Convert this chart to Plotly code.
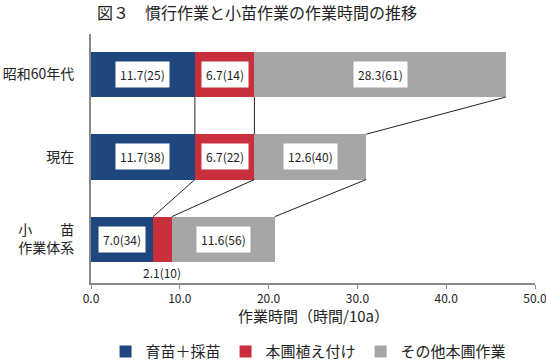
import plotly.graph_objects as go

categories = ["昭和60年代", "現在", "小　　苗<br>作業体系"]
ikubyo = [11.7, 11.7, 7.0]      # 育苗＋採苗
ueduke = [6.7, 6.7, 2.1]        # 本圃植え付け
sonota = [28.3, 12.6, 11.6]     # その他本圃作業
pct_ikubyo = [25, 38, 34]
pct_ueduke = [14, 22, 10]
pct_sonota = [61, 40, 56]
series_names = ["育苗＋採苗", "本圃植え付け", "その他本圃作業"]
colors = ["#1F467D", "#C9303B", "#A6A6A6"]
x_ticks = [0, 10, 20, 30, 40, 50]

FONT = "Noto Sans CJK JP"
BW = 0.55
ypos = list(range(len(categories)))

fig = go.Figure()
for vals, name, col in zip([ikubyo, ueduke, sonota], series_names, colors):
    fig.add_trace(go.Bar(y=ypos, x=vals, name=name, orientation="h",
                         marker=dict(color=col, line=dict(width=0)),
                         width=BW))

# connector lines between consecutive bars
cums = []
for i in range(len(categories)):
    a = ikubyo[i]; b = a + ueduke[i]; c = b + sonota[i]
    cums.append([a, b, c])
for i in range(len(categories) - 1):
    for k in range(3):
        fig.add_shape(type="line", x0=cums[i][k], x1=cums[i + 1][k],
                      y0=ypos[i] + BW / 2, y1=ypos[i + 1] - BW / 2,
                      line=dict(color="#222222", width=1))

# labels
for i in range(len(categories)):
    segs = [(0, ikubyo[i], pct_ikubyo[i]),
            (ikubyo[i], ueduke[i], pct_ueduke[i]),
            (ikubyo[i] + ueduke[i], sonota[i], pct_sonota[i])]
    for k, (start, v, p) in enumerate(segs):
        txt = f"{v:.1f}({p})"
        if v < 3:
            fig.add_annotation(x=start + v / 2, y=ypos[i] + BW / 2, text=txt,
                               showarrow=False, yanchor="top", yshift=0,
                               font=dict(size=12, color="#222222", family=FONT))
        else:
            fig.add_annotation(x=start + v / 2, y=ypos[i], text=txt,
                               showarrow=False, bgcolor="white", borderpad=4,
                               font=dict(size=12, color="#222222", family=FONT))

fig.add_annotation(x=0.374, y=1.088, xref="paper", yref="paper", yanchor="middle",
                   text="図３　慣行作業と小苗作業の作業時間の推移", showarrow=False,
                   font=dict(size=16, color="#222222", family=FONT))
fig.add_annotation(x=0.5, y=-0.1325, xref="paper", yref="paper",
                   text="作業時間（時間/10a）", showarrow=False, yanchor="middle",
                   font=dict(size=15, color="#222222", family=FONT))

fig.update_layout(
    width=546, height=363,
    margin=dict(l=91, r=11, t=34, b=80),
    barmode="stack",
    plot_bgcolor="white", paper_bgcolor="white",
    font=dict(family=FONT, size=15, color="#222222"),
    showlegend=True,
    legend=dict(orientation="h", x=0.49, xanchor="center",
                yref="container", y=0.031, yanchor="middle",
                font=dict(size=15, family=FONT), itemwidth=30, traceorder="normal"),
    xaxis=dict(range=[0, 50], tickvals=x_ticks,
               ticktext=[f"{t:.1f}" for t in x_ticks],
               showgrid=False, zeroline=False, showline=True, automargin=False,
               ticklabeloverflow="allow",
               linecolor="#888888", linewidth=2, ticks="outside",
               ticklen=4, tickcolor="#888888", tickwidth=1,
               tickfont=dict(size=12, family=FONT)),
    yaxis=dict(range=[2.53, -0.49], tickvals=ypos, ticktext=categories,
               showgrid=False, zeroline=False, showline=True, automargin=False,
               linecolor="#888888", linewidth=2, ticks="",
               ticklabelstandoff=12, tickfont=dict(size=14, family=FONT)),
)

fig.write_html("out.html", config={"displayModeBar": False},
               post_script="document.body.style.margin='0';")
